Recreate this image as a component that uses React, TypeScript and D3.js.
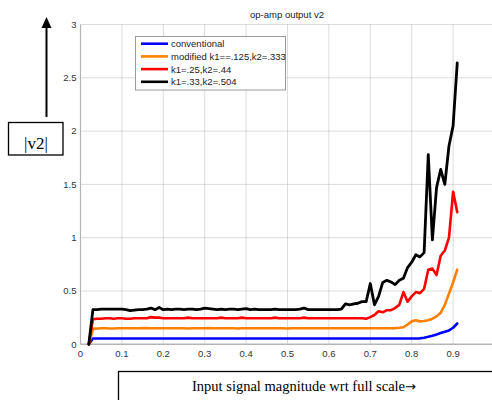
import React from 'react';
import * as d3 from 'd3';

// input signal magnitude (fraction of full scale)
const inputLevel = [
  0.02, 0.03, 0.04, 0.05, 0.06, 0.07, 0.08, 0.09, 0.1, 0.11,
  0.12, 0.13, 0.14, 0.15, 0.16, 0.17, 0.18, 0.19, 0.2, 0.21,
  0.22, 0.23, 0.24, 0.25, 0.26, 0.27, 0.28, 0.29, 0.3, 0.31,
  0.32, 0.33, 0.34, 0.35, 0.36, 0.37, 0.38, 0.39, 0.4, 0.41,
  0.42, 0.43, 0.44, 0.45, 0.46, 0.47, 0.48, 0.49, 0.5, 0.51,
  0.52, 0.53, 0.54, 0.55, 0.56, 0.57, 0.58, 0.59, 0.6, 0.61,
  0.62, 0.63, 0.64, 0.65, 0.66, 0.67, 0.68, 0.69, 0.7, 0.71,
  0.72, 0.73, 0.74, 0.75, 0.76, 0.77, 0.78, 0.79, 0.8, 0.81,
  0.82, 0.83, 0.84, 0.85, 0.86, 0.87, 0.88, 0.89, 0.9, 0.91,
];

const conventional = [
  0, 0.055, 0.055, 0.055, 0.055, 0.055, 0.055, 0.055, 0.055, 0.055,
  0.055, 0.055, 0.055, 0.055, 0.055, 0.055, 0.055, 0.055, 0.055, 0.055,
  0.055, 0.055, 0.055, 0.055, 0.055, 0.055, 0.055, 0.055, 0.055, 0.055,
  0.055, 0.055, 0.055, 0.055, 0.055, 0.055, 0.055, 0.055, 0.055, 0.055,
  0.055, 0.055, 0.055, 0.055, 0.055, 0.055, 0.055, 0.055, 0.055, 0.055,
  0.055, 0.055, 0.055, 0.055, 0.055, 0.055, 0.055, 0.055, 0.055, 0.055,
  0.055, 0.055, 0.055, 0.055, 0.055, 0.055, 0.055, 0.055, 0.055, 0.055,
  0.055, 0.055, 0.055, 0.055, 0.055, 0.055, 0.055, 0.055, 0.055, 0.055,
  0.056, 0.062, 0.07, 0.08, 0.092, 0.105, 0.117, 0.13, 0.155, 0.195,
];

const modified = [
  0, 0.145, 0.148, 0.15, 0.15, 0.148, 0.148, 0.15, 0.15, 0.15,
  0.15, 0.15, 0.15, 0.152, 0.152, 0.15, 0.15, 0.15, 0.15, 0.15,
  0.15, 0.15, 0.15, 0.15, 0.148, 0.15, 0.15, 0.15, 0.15, 0.152,
  0.15, 0.15, 0.15, 0.15, 0.15, 0.15, 0.148, 0.15, 0.15, 0.15,
  0.15, 0.15, 0.15, 0.15, 0.15, 0.15, 0.15, 0.15, 0.148, 0.15,
  0.15, 0.15, 0.15, 0.15, 0.15, 0.15, 0.15, 0.15, 0.15, 0.15,
  0.15, 0.15, 0.15, 0.15, 0.15, 0.15, 0.15, 0.15, 0.15, 0.15,
  0.15, 0.15, 0.15, 0.15, 0.152, 0.155, 0.16, 0.185, 0.215, 0.225,
  0.215, 0.218, 0.225, 0.24, 0.262, 0.295, 0.37, 0.475, 0.58, 0.7,
];

const k25 = [
  0, 0.235, 0.24, 0.24, 0.245, 0.245, 0.24, 0.245, 0.245, 0.24,
  0.24, 0.245, 0.245, 0.245, 0.245, 0.255, 0.25, 0.25, 0.245, 0.245,
  0.245, 0.245, 0.245, 0.245, 0.25, 0.245, 0.245, 0.245, 0.245, 0.245,
  0.245, 0.245, 0.25, 0.245, 0.245, 0.245, 0.245, 0.25, 0.245, 0.245,
  0.245, 0.245, 0.245, 0.245, 0.245, 0.25, 0.245, 0.245, 0.245, 0.245,
  0.245, 0.245, 0.25, 0.245, 0.245, 0.245, 0.245, 0.245, 0.245, 0.245,
  0.245, 0.245, 0.245, 0.245, 0.245, 0.245, 0.245, 0.24, 0.255, 0.275,
  0.31, 0.3, 0.32, 0.32, 0.34, 0.37, 0.49, 0.4, 0.45, 0.49,
  0.48, 0.52, 0.7, 0.71, 0.65, 0.83, 0.88, 1.0, 1.43, 1.24,
];

const k33 = [
  0, 0.325, 0.325, 0.33, 0.33, 0.33, 0.33, 0.33, 0.33, 0.325,
  0.315, 0.32, 0.325, 0.325, 0.33, 0.34, 0.325, 0.345, 0.325, 0.33,
  0.325, 0.33, 0.33, 0.325, 0.33, 0.33, 0.325, 0.33, 0.34, 0.335,
  0.33, 0.325, 0.33, 0.325, 0.33, 0.33, 0.325, 0.33, 0.335, 0.325,
  0.33, 0.325, 0.325, 0.325, 0.325, 0.33, 0.325, 0.325, 0.325, 0.325,
  0.325, 0.33, 0.34, 0.325, 0.325, 0.325, 0.325, 0.325, 0.325, 0.325,
  0.325, 0.33, 0.38, 0.37, 0.38, 0.385, 0.4, 0.4, 0.57, 0.37,
  0.45, 0.58, 0.6, 0.585, 0.56, 0.6, 0.62, 0.72, 0.77, 0.84,
  0.82, 0.86, 1.78, 0.98, 1.47, 1.64, 1.5, 1.86, 2.05, 2.64,
];

const seriesNames = ['conventional', 'modified k1==.125,k2=.333', 'k1=.25,k2=.44', 'k1=.33,k2=.504'];
const seriesColors = ['#0000ff', '#ff8000', '#ff0000', '#000000'];
const seriesValues = [conventional, modified, k25, k33];

const xTicks = [0, 0.1, 0.2, 0.3, 0.4, 0.5, 0.6, 0.7, 0.8, 0.9];
const xGrid = [0.1, 0.2, 0.3, 0.4, 0.5, 0.6, 0.7, 0.8, 0.9, 1];
const yTicks = [0, 0.5, 1, 1.5, 2, 2.5, 3];

const W = 492;
const H = 400;
const left = 80.5;
const right = 494.5;
const top = 24.5;
const bottom = 344.3;
const sans = 'Arial, "Liberation Sans", Helvetica, sans-serif';
const serif = '"Times New Roman", "Liberation Serif", serif';

export default function App() {
  const x = d3.scaleLinear().domain([0, 1]).range([left, right]);
  const y = d3.scaleLinear().domain([0, 3]).range([bottom, top]);

  const line = d3
    .line<number>()
    .x((d, i) => x(inputLevel[i]))
    .y(d => y(d));

  return (
    <svg
      width={W}
      height={H}
      style={{ position: 'absolute', left: 0, top: 0, background: '#fff' }}
    >
      <rect x={0} y={0} width={W} height={H} fill="#fff" />

      {/* grid */}
      {yTicks.filter(t => t > 0).map(t => (
        <line
          key={'gy' + t}
          x1={left}
          x2={right}
          y1={y(t)}
          y2={y(t)}
          stroke="#b8b8b8"
          strokeWidth={1}
          strokeDasharray="1 1"
        />
      ))}
      {xGrid.map(t => (
        <line
          key={'gx' + t}
          x1={x(t)}
          x2={x(t)}
          y1={top}
          y2={bottom}
          stroke="#b8b8b8"
          strokeWidth={1}
          strokeDasharray="1 1"
        />
      ))}

      {/* axes */}
      <line x1={left} x2={left} y1={top} y2={bottom} stroke="#b4b4b4" strokeWidth={1.2} />
      <line x1={left} x2={right} y1={bottom} y2={bottom} stroke="#b4b4b4" strokeWidth={1.5} />

      {yTicks.map(t => (
        <text
          key={'ty' + t}
          x={left - 4}
          y={y(t)}
          dy="0.35em"
          textAnchor="end"
          fontFamily={sans}
          fontSize={9.5}
          fill="#333"
        >
          {d3.format('~g')(t)}
        </text>
      ))}
      {xTicks.map(t => (
        <text
          key={'tx' + t}
          x={x(t)}
          y={bottom + 13}
          textAnchor="middle"
          fontFamily={sans}
          fontSize={9.5}
          fill="#333"
        >
          {d3.format('~g')(t)}
        </text>
      ))}

      {/* series */}
      {seriesValues.map((vals, i) => (
        <path
          key={'s' + i}
          d={line(vals) || ''}
          fill="none"
          stroke={seriesColors[i]}
          strokeWidth={i === 3 ? 2.8 : 2.6}
          strokeLinejoin="round"
          strokeLinecap="round"
        />
      ))}

      {/* title */}
      <text x={287} y={17.5} textAnchor="middle" fontFamily={sans} fontSize={9.5} fill="#222">
        op-amp output v2
      </text>

      {/* legend */}
      <rect x={135.5} y={36.5} width={150} height={53.5} fill="#fff" stroke="#9a9a9a" strokeWidth={1} />
      {seriesNames.map((name, i) => {
        const cy = 43.7 + i * 12.7;
        return (
          <g key={'lg' + i}>
            <line x1={141} x2={168} y1={cy} y2={cy} stroke={seriesColors[i]} strokeWidth={2.6} />
            <text x={171} y={cy + 3.4} fontFamily={sans} fontSize={9.5} fill="#222">
              {name}
            </text>
          </g>
        );
      })}

      {/* y annotation */}
      <line x1={46.5} x2={46.5} y1={117} y2={25} stroke="#000" strokeWidth={2} />
      <path d="M46.5,17 L51.5,28 L41.5,28 Z" fill="#000" />
      <rect x={8.5} y={122.5} width={54.5} height={32.5} fill="#fff" stroke="#000" strokeWidth={1.3} />
      <text x={36} y={148.5} textAnchor="middle" fontFamily={serif} fontSize={17} fill="#000">
        |v2|
      </text>

      {/* x annotation */}
      <rect x={118.5} y={371.5} width={380} height={40} fill="#fff" stroke="#000" strokeWidth={1.3} />
      <text x={304} y={391} textAnchor="middle" fontFamily={serif} fontSize={14.5} fill="#000">
        Input signal magnitude wrt full scale
        <tspan fontFamily='"DejaVu Sans", sans-serif' fontSize={13}>
          →
        </tspan>
      </text>
    </svg>
  );
}
